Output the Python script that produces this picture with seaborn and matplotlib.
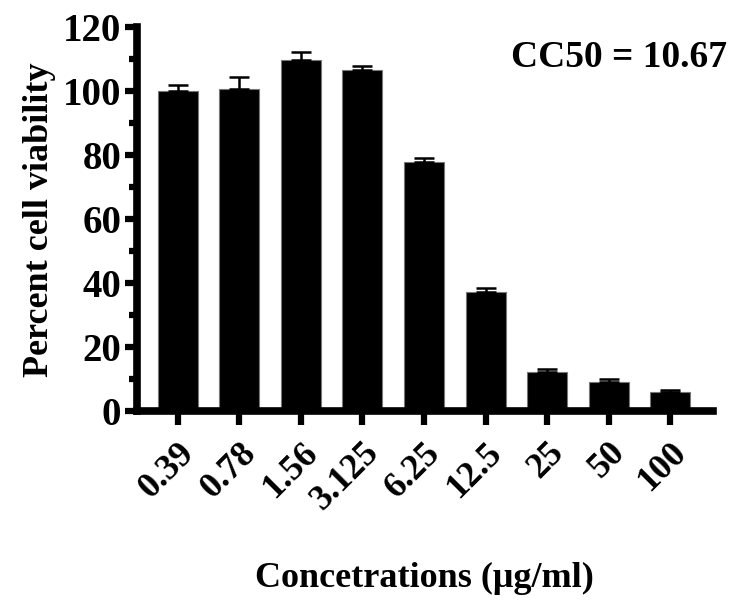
import numpy as np
import pandas as pd
import matplotlib.pyplot as plt
import seaborn as sns

# concentrations (ug/ml) and mean viability with SD
conc = ['0.39', '0.78', '1.56', '3.125', '6.25', '12.5', '25', '50', '100']
viability = [100.0, 100.7, 109.6, 106.7, 77.9, 37.3, 12.3, 9.0, 5.9]
sd = [2.0, 3.7, 2.6, 1.2, 1.1, 1.2, 0.8, 1.2, 0.6]

df = pd.DataFrame({'conc': conc, 'viability': viability, 'sd': sd})

sns.set_style('ticks', {'axes.edgecolor': 'black', 'text.color': 'black',
                        'axes.labelcolor': 'black', 'xtick.color': 'black',
                        'ytick.color': 'black'})
plt.rcParams['font.family'] = ['Liberation Serif', 'DejaVu Serif']
plt.rcParams['font.weight'] = 'bold'

fig = plt.figure(figsize=(7.39, 6.03), dpi=100)
ax = fig.add_axes([0.185, 0.318, 0.78, 0.637])

sns.barplot(data=df, x='conc', y='viability', color='black', edgecolor='#777777',
            linewidth=0.8, width=0.65, saturation=1, errorbar=None, ax=ax)

# upper error bars only
pos = np.arange(len(conc))
ax.errorbar(pos, df['viability'], yerr=[np.zeros(len(sd)), df['sd']], fmt='none',
            ecolor='black', elinewidth=1.8, capsize=7.5, capthick=1.8)

ax.set_ylim(0, 120)
ax.set_xlim(-0.67, 8.7)
ax.set_yticks(np.arange(0, 121, 20))
ax.set_yticks(np.arange(10, 120, 20), minor=True)

for s in ['top', 'right']:
    ax.spines[s].set_visible(False)
for s in ['left', 'bottom']:
    ax.spines[s].set_linewidth(5.5)

ax.tick_params(axis='both', which='major', length=9, width=4.5, pad=2)
ax.tick_params(axis='y', which='minor', length=6, width=4.5)
ax.tick_params(axis='x', which='major', length=10, pad=8)

ax.set_xticks(pos)
ax.set_xticklabels(conc, rotation=45, ha='right', rotation_mode='anchor',
                   fontsize=26, fontweight='bold')
for t in ax.get_yticklabels():
    t.set_fontweight('bold')
    t.set_fontsize(28)

ax.set_ylabel('Percent cell viability', fontsize=26, fontweight='bold', labelpad=5)
ax.set_xlabel('Concetrations (μg/ml)', fontsize=26, fontweight='bold', labelpad=32)

fig.text(0.984, 0.905, 'CC50 = 10.67', ha='right', va='center',
         fontsize=27, fontweight='bold')

fig.savefig('out.png', dpi=100)
